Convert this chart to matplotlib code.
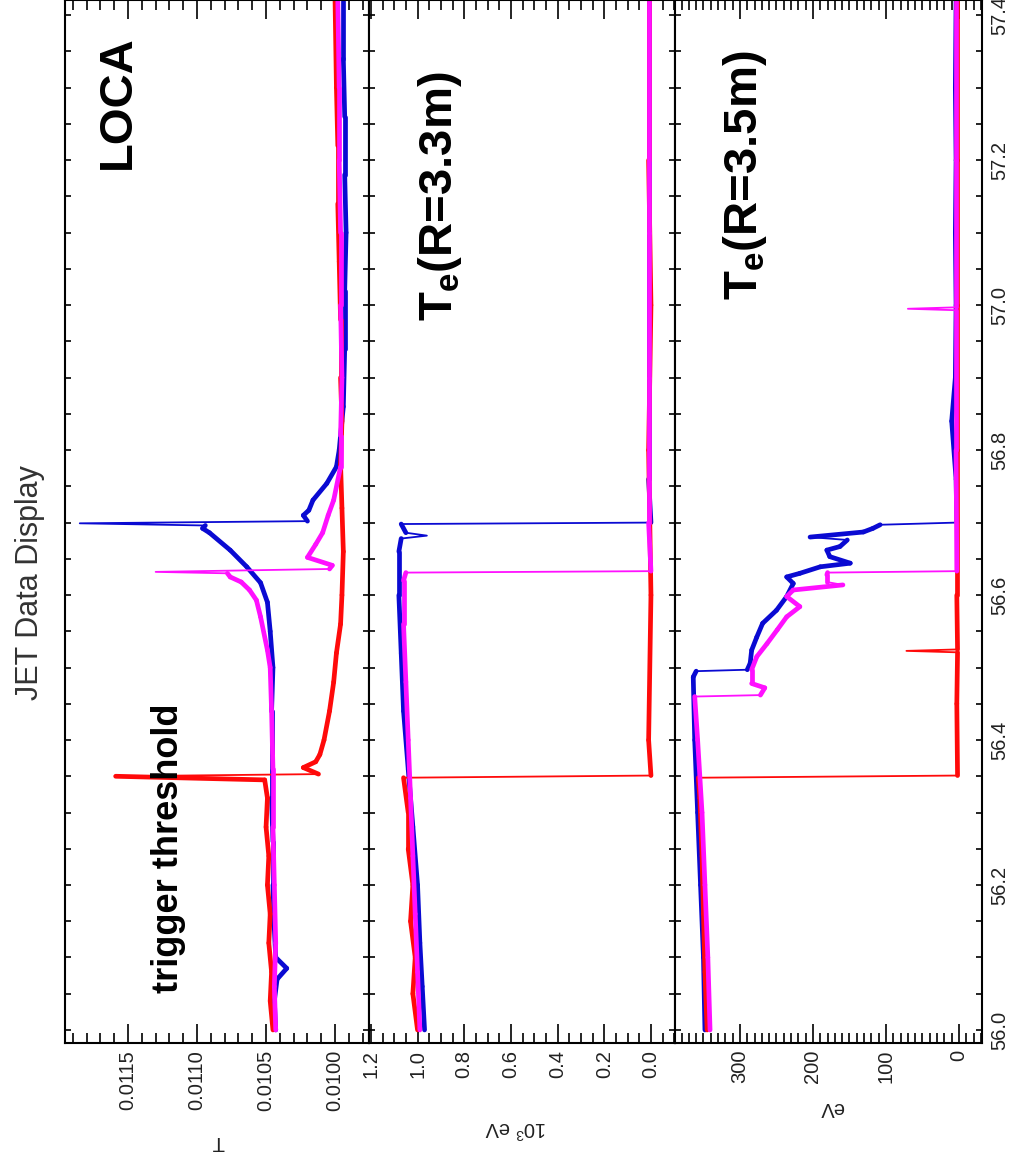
import matplotlib
matplotlib.use("Agg")
import matplotlib.pyplot as plt
from matplotlib.ticker import MultipleLocator, FormatStrFormatter
from matplotlib.collections import LineCollection

plt.rcParams['font.family'] = ['Liberation Sans', 'DejaVu Sans']
plt.rcParams['mathtext.fontset'] = 'custom'
plt.rcParams['mathtext.rm'] = 'Liberation Sans'
plt.rcParams['mathtext.bf'] = 'Liberation Sans:bold'

# time window (s)
t_min, t_max = 55.982, 57.421

# --- panel 1 : LOCA (T) ---
loca_red_t = [56.00, 56.04, 56.08, 56.12, 56.16, 56.20, 56.24, 56.28, 56.32, 56.345, 56.350, 56.353,
              56.362, 56.370, 56.380, 56.40, 56.44, 56.48, 56.52, 56.56, 56.60, 56.66, 56.72, 56.78,
              56.84, 56.90, 56.98, 57.06, 57.14, 57.22, 57.30, 57.42]
loca_red_v = [0.01045, 0.01047, 0.01046, 0.01048, 0.01047, 0.01049, 0.01048, 0.01050, 0.01049, 0.01051,
              0.01159, 0.01012, 0.01023, 0.01014, 0.01011, 0.01008, 0.01004, 0.01001, 0.00999, 0.00996,
              0.00995, 0.00994, 0.00995, 0.00996, 0.00995, 0.00996, 0.00996, 0.00997, 0.00998, 0.00998,
              0.00999, 0.01000]
loca_blue_t = [56.00, 56.04, 56.07, 56.085, 56.10, 56.14, 56.20, 56.26, 56.32, 56.38, 56.44, 56.50, 56.55,
               56.59, 56.617, 56.639, 56.662, 56.686, 56.692, 56.696, 56.699, 56.702, 56.710, 56.717,
               56.731, 56.754, 56.777, 56.80, 56.86, 56.94, 57.02, 57.10, 57.18, 57.26, 57.34, 57.42]
loca_blue_v = [0.01043, 0.01044, 0.01042, 0.01035, 0.01043, 0.01044, 0.01045, 0.01045, 0.01046, 0.01046,
               0.01046, 0.01045, 0.01047, 0.01049, 0.01054, 0.01064, 0.01076, 0.01091, 0.01096, 0.01094,
               0.01185, 0.01020, 0.01023, 0.01019, 0.01016, 0.01006, 0.00999, 0.00997, 0.00994, 0.00993,
               0.00993, 0.00992, 0.00993, 0.00993, 0.00994, 0.00994]
loca_mag_t = [56.00, 56.06, 56.12, 56.20, 56.28, 56.36, 56.44, 56.50, 56.524, 56.570, 56.593, 56.607,
              56.618, 56.625, 56.630, 56.632, 56.636, 56.641, 56.652, 56.670, 56.686, 56.710, 56.731,
              56.777, 56.82, 56.90, 57.00, 57.10, 57.20, 57.30, 57.42]
loca_mag_v = [0.01043, 0.01044, 0.01043, 0.01044, 0.01045, 0.01045, 0.01046, 0.01047, 0.01049, 0.01054,
              0.01057, 0.01062, 0.01068, 0.01076, 0.01078, 0.01130, 0.01004, 0.01002, 0.01020, 0.01014,
              0.01009, 0.01005, 0.01001, 0.00996, 0.00996, 0.00995, 0.00996, 0.00996, 0.00997, 0.00997,
              0.00998]

# --- panel 2 : Te(R=3.3m), 10^3 eV ---
te33_red_t = [56.00, 56.05, 56.10, 56.15, 56.20, 56.25, 56.30, 56.348, 56.351, 56.40, 56.60, 56.80,
              57.00, 57.20, 57.42]
te33_red_v = [1.00, 1.02, 1.01, 1.03, 1.02, 1.04, 1.04, 1.06, 0.0, 0.01, 0.0, 0.01, 0.0, 0.01, 0.01]
te33_blue_t = [56.00, 56.06, 56.12, 56.20, 56.28, 56.36, 56.44, 56.52, 56.60, 56.66, 56.678, 56.682,
               56.686, 56.698, 56.700, 56.76, 56.90, 57.10, 57.42]
te33_blue_v = [0.97, 0.98, 0.99, 1.00, 1.02, 1.04, 1.06, 1.07, 1.08, 1.08, 1.07, 0.96, 1.05, 1.07, 0.0,
               0.01, 0.01, 0.01, 0.01]
te33_mag_t = [56.00, 56.08, 56.16, 56.24, 56.32, 56.40, 56.48, 56.56, 56.62, 56.631, 56.633, 56.70,
              56.90, 57.10, 57.42]
te33_mag_v = [0.99, 1.00, 1.01, 1.02, 1.03, 1.04, 1.05, 1.06, 1.06, 1.05, 0.0, 0.01, 0.01, 0.01, 0.01]

# --- panel 3 : Te(R=3.5m), eV ---
te35_red_t = [56.00, 56.08, 56.16, 56.24, 56.32, 56.348, 56.351, 56.45, 56.521, 56.523, 56.525, 56.60,
              56.80, 57.00, 57.20, 57.42]
te35_red_v = [345, 348, 350, 352, 355, 357, 2, 3, 2, 72, 2, 3, 3, 3, 3, 3]
te35_blue_t = [56.00, 56.10, 56.20, 56.30, 56.40, 56.487, 56.495, 56.497, 56.506, 56.524, 56.542, 56.561,
               56.579, 56.598, 56.616, 56.625, 56.630, 56.639, 56.644, 56.653, 56.662, 56.667, 56.676,
               56.680, 56.687, 56.692, 56.697, 56.700, 56.76, 56.84, 56.90, 57.00, 57.10, 57.20, 57.30,
               57.42]
te35_blue_v = [348, 350, 354, 358, 362, 364, 360, 290, 286, 284, 277, 269, 250, 236, 227, 236, 218, 190,
               149, 177, 181, 163, 153, 204, 131, 118, 108, 3, 4, 10, 5, 4, 5, 4, 5, 4]
te35_mag_t = [56.00, 56.10, 56.20, 56.30, 56.40, 56.460, 56.462, 56.472, 56.478, 56.497, 56.515, 56.533,
              56.552, 56.570, 56.584, 56.598, 56.607, 56.614, 56.618, 56.628, 56.631, 56.633, 56.80,
              56.993, 56.995, 56.997, 57.20, 57.42]
te35_mag_v = [341, 344, 348, 352, 358, 362, 272, 266, 284, 284, 277, 263, 249, 236, 218, 236, 227, 159,
              181, 181, 180, 3, 4, 4, 70, 4, 4, 4]

RED, BLUE, MAG = '#ff0a0a', '#0a0ad2', '#ff10ff'
W, H = 1013, 1167

fig = plt.figure(figsize=(W / 100, H / 100), dpi=100)

def px_axes(x0, x1):
    return fig.add_axes([x0 / W, (H - 1043) / H, (x1 - x0) / W, 1043 / H])

ax1 = px_axes(65, 369)
ax2 = px_axes(369, 675)
ax3 = px_axes(675, 982)

panels = [
    (ax1, (0.011957, 0.009754), 0.0005, 0.0001, '%.4f',
     [(loca_blue_t, loca_blue_v, BLUE), (loca_red_t, loca_red_v, RED), (loca_mag_t, loca_mag_v, MAG)]),
    (ax2, (1.208, -0.103), 0.2, 0.05, '%.1f',
     [(te33_blue_t, te33_blue_v, BLUE), (te33_red_t, te33_red_v, RED), (te33_mag_t, te33_mag_v, MAG)]),
    (ax3, (389, -31.5), 100, 10, '%d',
     [(te35_blue_t, te35_blue_v, BLUE), (te35_red_t, te35_red_v, RED), (te35_mag_t, te35_mag_v, MAG)]),
]

def draw_trace(ax, t, v, c, span):
    # thin line everywhere, noisy (slow) parts drawn as a wider band
    ax.plot(v, t, color=c, lw=1.3)
    segs = []
    for i in range(len(t) - 1):
        fast = (t[i + 1] - t[i]) <= 0.0045 and abs(v[i + 1] - v[i]) > 0.05 * span
        if not fast:
            segs.append([(v[i], t[i]), (v[i + 1], t[i + 1])])
    ax.add_collection(LineCollection(segs, colors=c, linewidths=3.4, capstyle='round'))

for ax, xl, maj, mnr, fmt, series in panels:
    for t, v, c in series:
        draw_trace(ax, t, v, c, abs(xl[0] - xl[1]))
    ax.set_xlim(*xl)
    ax.set_ylim(t_min, t_max)
    ax.xaxis.set_major_locator(MultipleLocator(maj))
    ax.xaxis.set_minor_locator(MultipleLocator(mnr))
    ax.xaxis.set_major_formatter(FormatStrFormatter(fmt))
    ax.yaxis.set_major_locator(MultipleLocator(0.2))
    ax.yaxis.set_minor_locator(MultipleLocator(0.05))
    ax.tick_params(axis='x', which='major', direction='in', top=True, bottom=True,
                   length=14, width=1.2, labelsize=14.5, labelrotation=90, pad=5, labelcolor='#222222')
    ax.tick_params(axis='x', which='minor', direction='in', top=True, bottom=True, length=7, width=1.2)
    ax.tick_params(axis='y', which='both', direction='in', left=True, right=True,
                   length=4, width=1.2, labelleft=False, labelright=False)
    for s in ax.spines.values():
        s.set_linewidth(1.5)

ax3.tick_params(axis='y', which='major', labelright=True, labelrotation=90, labelsize=14.5, pad=6,
                labelcolor='#222222')
ax3.yaxis.set_major_formatter(FormatStrFormatter('%.1f'))
plt.setp(ax3.get_yticklabels(), va='center')

def ftext(x, y, s, **kw):
    fig.text(x / W, 1 - y / H, s, ha='center', va='center', **kw)

ftext(30, 583, 'JET Data Display', rotation=90, fontsize=22, color='#333333')
ftext(118, 102, 'LOCA', rotation=90, fontsize=34, fontweight='bold')
ftext(168, 848, 'trigger threshold', rotation=90, fontsize=26, fontweight='bold')
ftext(440, 196, r'T$_{\mathbf{e}}$(R=3.3m)', rotation=90, fontsize=34, fontweight='bold')
ftext(745, 175, r'T$_{\mathbf{e}}$(R=3.5m)', rotation=90, fontsize=34, fontweight='bold')
ftext(218, 1142, 'T', rotation=180, fontsize=14.5, color='#222222')
ftext(515, 1128, r'10$^{3}$ eV', rotation=180, fontsize=14.5, color='#222222')
ftext(832, 1108, 'eV', rotation=180, fontsize=14.5, color='#222222')

fig.savefig('out.png', dpi=100)
